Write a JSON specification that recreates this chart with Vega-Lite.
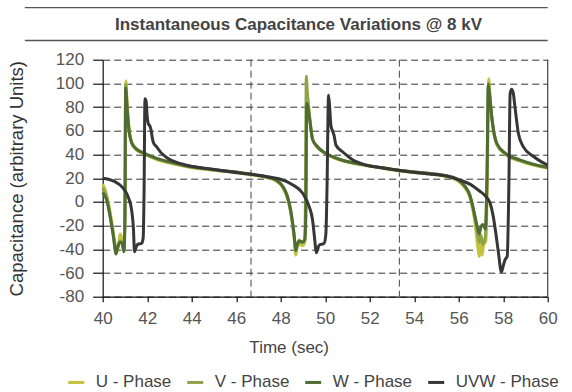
{
  "$schema": "https://vega.github.io/schema/vega-lite/v6.json",
  "width": 445,
  "height": 237,
  "autosize": {"type": "none"},
  "padding": {"left": 102.7, "top": 59.7, "right": 24.3, "bottom": 95.3},
  "config": {
    "view": {"stroke": null},
    "font": "Liberation Sans",
    "axisX": {
      "tickCount": 10, "grid": false, "domainColor": "#111", "domainWidth": 1.2, "tickColor": "#111", "tickSize": 5, "tickWidth": 1.2,
      "labelFontSize": 17, "labelColor": "#555", "labelPadding": 9, "labelDx": 3, "labelFlush": false, "labelOverlap": false,
      "titleFontSize": 17, "titleFontWeight": "normal", "titleColor": "#444",
      "titleX": 186, "titleY": 43, "titleAlign": "center", "titleBaseline": "top"
    },
    "axisY": {
      "tickCount": 10, "grid": true, "gridColor": "#333", "gridDash": [7, 4], "gridWidth": 1,
      "domainColor": "#111", "domainWidth": 1.2, "tickColor": "#111", "tickSize": 10, "tickWidth": 1.2,
      "labelFontSize": 17, "labelColor": "#555", "labelPadding": 9, "labelFlush": false, "labelOverlap": false,
      "titleFontSize": 18.5, "titleFontWeight": "normal", "titleColor": "#333",
      "titleX": -86, "titleBaseline": "middle"
    }
  },
  "datasets": {
    "series": [
      {"series": "U - Phase", "t": 40, "c": 15}, {"series": "U - Phase", "t": 40.15, "c": 8}, {"series": "U - Phase", "t": 40.3, "c": -5}, {"series": "U - Phase", "t": 40.45, "c": -22}, {"series": "U - Phase", "t": 40.58, "c": -38}, {"series": "U - Phase", "t": 40.65, "c": -42}, {"series": "U - Phase", "t": 40.72, "c": -36}, {"series": "U - Phase", "t": 40.78, "c": -27}, {"series": "U - Phase", "t": 40.85, "c": -30}, {"series": "U - Phase", "t": 40.92, "c": -40}, {"series": "U - Phase", "t": 40.98, "c": -35}, {"series": "U - Phase", "t": 41.01, "c": 30}, {"series": "U - Phase", "t": 41.04, "c": 102}, {"series": "U - Phase", "t": 41.1, "c": 82}, {"series": "U - Phase", "t": 41.18, "c": 64}, {"series": "U - Phase", "t": 41.3, "c": 50}, {"series": "U - Phase", "t": 41.5, "c": 44}, {"series": "U - Phase", "t": 41.85, "c": 40.5}, {"series": "U - Phase", "t": 42.4, "c": 36}, {"series": "U - Phase", "t": 43.2, "c": 32}, {"series": "U - Phase", "t": 43.9, "c": 29.3}, {"series": "U - Phase", "t": 44.7, "c": 27.3}, {"series": "U - Phase", "t": 45.4, "c": 25.8}, {"series": "U - Phase", "t": 46.2, "c": 24.2}, {"series": "U - Phase", "t": 46.9, "c": 22.3}, {"series": "U - Phase", "t": 47.4, "c": 20.5}, {"series": "U - Phase", "t": 47.8, "c": 17.5}, {"series": "U - Phase", "t": 48.1, "c": 12}, {"series": "U - Phase", "t": 48.3, "c": 3}, {"series": "U - Phase", "t": 48.45, "c": -9}, {"series": "U - Phase", "t": 48.6, "c": -30}, {"series": "U - Phase", "t": 48.68, "c": -45}, {"series": "U - Phase", "t": 48.75, "c": -37}, {"series": "U - Phase", "t": 48.82, "c": -32}, {"series": "U - Phase", "t": 48.88, "c": -36}, {"series": "U - Phase", "t": 48.98, "c": -37}, {"series": "U - Phase", "t": 49.08, "c": -34}, {"series": "U - Phase", "t": 49.13, "c": -5}, {"series": "U - Phase", "t": 49.17, "c": 94}, {"series": "U - Phase", "t": 49.22, "c": 88}, {"series": "U - Phase", "t": 49.3, "c": 72}, {"series": "U - Phase", "t": 49.43, "c": 53}, {"series": "U - Phase", "t": 49.65, "c": 46}, {"series": "U - Phase", "t": 50.03, "c": 40.5}, {"series": "U - Phase", "t": 50.63, "c": 35.5}, {"series": "U - Phase", "t": 51.4, "c": 32}, {"series": "U - Phase", "t": 52.4, "c": 29}, {"series": "U - Phase", "t": 53.2, "c": 26.5}, {"series": "U - Phase", "t": 53.9, "c": 25}, {"series": "U - Phase", "t": 54.7, "c": 23.5}, {"series": "U - Phase", "t": 55.4, "c": 21.5}, {"series": "U - Phase", "t": 55.9, "c": 18.5}, {"series": "U - Phase", "t": 56.27, "c": 12}, {"series": "U - Phase", "t": 56.5, "c": 4}, {"series": "U - Phase", "t": 56.65, "c": -8}, {"series": "U - Phase", "t": 56.78, "c": -25}, {"series": "U - Phase", "t": 56.87, "c": -40}, {"series": "U - Phase", "t": 56.93, "c": -46}, {"series": "U - Phase", "t": 56.99, "c": -33}, {"series": "U - Phase", "t": 57.05, "c": -45}, {"series": "U - Phase", "t": 57.12, "c": -36}, {"series": "U - Phase", "t": 57.22, "c": -33}, {"series": "U - Phase", "t": 57.29, "c": 20}, {"series": "U - Phase", "t": 57.35, "c": 104}, {"series": "U - Phase", "t": 57.41, "c": 88}, {"series": "U - Phase", "t": 57.49, "c": 71}, {"series": "U - Phase", "t": 57.71, "c": 48.5}, {"series": "U - Phase", "t": 58.1, "c": 40}, {"series": "U - Phase", "t": 58.75, "c": 34.5}, {"series": "U - Phase", "t": 59.5, "c": 30.5}, {"series": "U - Phase", "t": 60, "c": 28.5},

      {"series": "V - Phase", "t": 40, "c": 12}, {"series": "V - Phase", "t": 40.17, "c": 4}, {"series": "V - Phase", "t": 40.32, "c": -10}, {"series": "V - Phase", "t": 40.47, "c": -27}, {"series": "V - Phase", "t": 40.6, "c": -42}, {"series": "V - Phase", "t": 40.68, "c": -37}, {"series": "V - Phase", "t": 40.78, "c": -33}, {"series": "V - Phase", "t": 40.88, "c": -34}, {"series": "V - Phase", "t": 40.95, "c": -41}, {"series": "V - Phase", "t": 41.0, "c": -10}, {"series": "V - Phase", "t": 41.03, "c": 99}, {"series": "V - Phase", "t": 41.1, "c": 80}, {"series": "V - Phase", "t": 41.17, "c": 63}, {"series": "V - Phase", "t": 41.3, "c": 50}, {"series": "V - Phase", "t": 41.5, "c": 44.5}, {"series": "V - Phase", "t": 41.85, "c": 41}, {"series": "V - Phase", "t": 42.4, "c": 36.5}, {"series": "V - Phase", "t": 43.2, "c": 32.5}, {"series": "V - Phase", "t": 43.9, "c": 29.7}, {"series": "V - Phase", "t": 44.7, "c": 27.6}, {"series": "V - Phase", "t": 45.4, "c": 26}, {"series": "V - Phase", "t": 46.2, "c": 24.5}, {"series": "V - Phase", "t": 46.9, "c": 22.6}, {"series": "V - Phase", "t": 47.4, "c": 20.8}, {"series": "V - Phase", "t": 47.8, "c": 18}, {"series": "V - Phase", "t": 48.1, "c": 12.5}, {"series": "V - Phase", "t": 48.3, "c": 4}, {"series": "V - Phase", "t": 48.45, "c": -8}, {"series": "V - Phase", "t": 48.6, "c": -28}, {"series": "V - Phase", "t": 48.68, "c": -40}, {"series": "V - Phase", "t": 48.75, "c": -35}, {"series": "V - Phase", "t": 48.85, "c": -33}, {"series": "V - Phase", "t": 48.98, "c": -34}, {"series": "V - Phase", "t": 49.08, "c": -31}, {"series": "V - Phase", "t": 49.12, "c": 20}, {"series": "V - Phase", "t": 49.15, "c": 106}, {"series": "V - Phase", "t": 49.2, "c": 90}, {"series": "V - Phase", "t": 49.3, "c": 71}, {"series": "V - Phase", "t": 49.43, "c": 53}, {"series": "V - Phase", "t": 49.65, "c": 46.5}, {"series": "V - Phase", "t": 50.03, "c": 41}, {"series": "V - Phase", "t": 50.63, "c": 36}, {"series": "V - Phase", "t": 51.4, "c": 32.5}, {"series": "V - Phase", "t": 52.4, "c": 29.3}, {"series": "V - Phase", "t": 53.2, "c": 27}, {"series": "V - Phase", "t": 53.9, "c": 25.5}, {"series": "V - Phase", "t": 54.7, "c": 24}, {"series": "V - Phase", "t": 55.4, "c": 22}, {"series": "V - Phase", "t": 55.9, "c": 19.3}, {"series": "V - Phase", "t": 56.27, "c": 13}, {"series": "V - Phase", "t": 56.5, "c": 5}, {"series": "V - Phase", "t": 56.65, "c": -6}, {"series": "V - Phase", "t": 56.8, "c": -21}, {"series": "V - Phase", "t": 56.92, "c": -34}, {"series": "V - Phase", "t": 57.0, "c": -28}, {"series": "V - Phase", "t": 57.08, "c": -36}, {"series": "V - Phase", "t": 57.2, "c": -29}, {"series": "V - Phase", "t": 57.28, "c": 30}, {"series": "V - Phase", "t": 57.34, "c": 100}, {"series": "V - Phase", "t": 57.41, "c": 87}, {"series": "V - Phase", "t": 57.49, "c": 71}, {"series": "V - Phase", "t": 57.71, "c": 49}, {"series": "V - Phase", "t": 58.1, "c": 40.5}, {"series": "V - Phase", "t": 58.75, "c": 35}, {"series": "V - Phase", "t": 59.5, "c": 31}, {"series": "V - Phase", "t": 60, "c": 29.5},

      {"series": "W - Phase", "t": 40, "c": 8}, {"series": "W - Phase", "t": 40.18, "c": 1.5}, {"series": "W - Phase", "t": 40.33, "c": -12}, {"series": "W - Phase", "t": 40.48, "c": -29}, {"series": "W - Phase", "t": 40.6, "c": -44}, {"series": "W - Phase", "t": 40.68, "c": -38}, {"series": "W - Phase", "t": 40.78, "c": -34}, {"series": "W - Phase", "t": 40.88, "c": -35}, {"series": "W - Phase", "t": 40.95, "c": -42}, {"series": "W - Phase", "t": 41.0, "c": -15}, {"series": "W - Phase", "t": 41.03, "c": 96}, {"series": "W - Phase", "t": 41.1, "c": 78}, {"series": "W - Phase", "t": 41.17, "c": 62}, {"series": "W - Phase", "t": 41.3, "c": 50}, {"series": "W - Phase", "t": 41.5, "c": 45}, {"series": "W - Phase", "t": 41.83, "c": 41.5}, {"series": "W - Phase", "t": 42.4, "c": 37}, {"series": "W - Phase", "t": 43.2, "c": 33}, {"series": "W - Phase", "t": 43.9, "c": 30}, {"series": "W - Phase", "t": 44.7, "c": 28}, {"series": "W - Phase", "t": 45.4, "c": 26.3}, {"series": "W - Phase", "t": 46.2, "c": 24.7}, {"series": "W - Phase", "t": 46.9, "c": 22.8}, {"series": "W - Phase", "t": 47.4, "c": 21}, {"series": "W - Phase", "t": 47.8, "c": 18.5}, {"series": "W - Phase", "t": 48.1, "c": 13}, {"series": "W - Phase", "t": 48.3, "c": 5}, {"series": "W - Phase", "t": 48.45, "c": -7}, {"series": "W - Phase", "t": 48.6, "c": -27}, {"series": "W - Phase", "t": 48.68, "c": -41}, {"series": "W - Phase", "t": 48.75, "c": -36}, {"series": "W - Phase", "t": 48.85, "c": -33}, {"series": "W - Phase", "t": 48.98, "c": -34}, {"series": "W - Phase", "t": 49.08, "c": -32}, {"series": "W - Phase", "t": 49.13, "c": -10}, {"series": "W - Phase", "t": 49.17, "c": 83}, {"series": "W - Phase", "t": 49.22, "c": 80}, {"series": "W - Phase", "t": 49.3, "c": 70}, {"series": "W - Phase", "t": 49.43, "c": 53}, {"series": "W - Phase", "t": 49.65, "c": 46.5}, {"series": "W - Phase", "t": 50.03, "c": 41}, {"series": "W - Phase", "t": 50.63, "c": 36}, {"series": "W - Phase", "t": 51.4, "c": 32.5}, {"series": "W - Phase", "t": 52.4, "c": 29.3}, {"series": "W - Phase", "t": 53.2, "c": 27}, {"series": "W - Phase", "t": 53.9, "c": 25.5}, {"series": "W - Phase", "t": 54.7, "c": 24}, {"series": "W - Phase", "t": 55.4, "c": 22.3}, {"series": "W - Phase", "t": 55.9, "c": 19.5}, {"series": "W - Phase", "t": 56.27, "c": 13.5}, {"series": "W - Phase", "t": 56.5, "c": 6}, {"series": "W - Phase", "t": 56.65, "c": -5}, {"series": "W - Phase", "t": 56.8, "c": -18}, {"series": "W - Phase", "t": 56.92, "c": -27}, {"series": "W - Phase", "t": 57.0, "c": -21}, {"series": "W - Phase", "t": 57.08, "c": -19}, {"series": "W - Phase", "t": 57.2, "c": -23}, {"series": "W - Phase", "t": 57.27, "c": 20}, {"series": "W - Phase", "t": 57.33, "c": 99}, {"series": "W - Phase", "t": 57.4, "c": 88}, {"series": "W - Phase", "t": 57.49, "c": 71}, {"series": "W - Phase", "t": 57.71, "c": 49.5}, {"series": "W - Phase", "t": 58.1, "c": 41}, {"series": "W - Phase", "t": 58.75, "c": 35.5}, {"series": "W - Phase", "t": 59.5, "c": 31}, {"series": "W - Phase", "t": 60, "c": 29},

      {"series": "UVW - Phase", "t": 40, "c": 20}, {"series": "UVW - Phase", "t": 40.5, "c": 17.5}, {"series": "UVW - Phase", "t": 40.9, "c": 12}, {"series": "UVW - Phase", "t": 41.15, "c": 4}, {"series": "UVW - Phase", "t": 41.3, "c": -7}, {"series": "UVW - Phase", "t": 41.38, "c": -22}, {"series": "UVW - Phase", "t": 41.43, "c": -42}, {"series": "UVW - Phase", "t": 41.5, "c": -38}, {"series": "UVW - Phase", "t": 41.6, "c": -35.5}, {"series": "UVW - Phase", "t": 41.75, "c": -35}, {"series": "UVW - Phase", "t": 41.82, "c": -30}, {"series": "UVW - Phase", "t": 41.86, "c": 10}, {"series": "UVW - Phase", "t": 41.9, "c": 87}, {"series": "UVW - Phase", "t": 41.95, "c": 85}, {"series": "UVW - Phase", "t": 42.0, "c": 72}, {"series": "UVW - Phase", "t": 42.05, "c": 66}, {"series": "UVW - Phase", "t": 42.12, "c": 64}, {"series": "UVW - Phase", "t": 42.18, "c": 60}, {"series": "UVW - Phase", "t": 42.22, "c": 55}, {"series": "UVW - Phase", "t": 42.28, "c": 50}, {"series": "UVW - Phase", "t": 42.4, "c": 47}, {"series": "UVW - Phase", "t": 42.6, "c": 42}, {"series": "UVW - Phase", "t": 42.9, "c": 37}, {"series": "UVW - Phase", "t": 43.3, "c": 33.5}, {"series": "UVW - Phase", "t": 43.93, "c": 30.3}, {"series": "UVW - Phase", "t": 44.67, "c": 28.3}, {"series": "UVW - Phase", "t": 45.42, "c": 26.3}, {"series": "UVW - Phase", "t": 46.17, "c": 24.3}, {"series": "UVW - Phase", "t": 46.92, "c": 22.6}, {"series": "UVW - Phase", "t": 47.5, "c": 21}, {"series": "UVW - Phase", "t": 47.92, "c": 19.5}, {"series": "UVW - Phase", "t": 48.53, "c": 14.5}, {"series": "UVW - Phase", "t": 48.98, "c": 7.5}, {"series": "UVW - Phase", "t": 49.28, "c": -4}, {"series": "UVW - Phase", "t": 49.43, "c": -15}, {"series": "UVW - Phase", "t": 49.53, "c": -32}, {"series": "UVW - Phase", "t": 49.6, "c": -43}, {"series": "UVW - Phase", "t": 49.73, "c": -36.5}, {"series": "UVW - Phase", "t": 49.95, "c": -35}, {"series": "UVW - Phase", "t": 50.03, "c": -27}, {"series": "UVW - Phase", "t": 50.08, "c": 10}, {"series": "UVW - Phase", "t": 50.15, "c": 90}, {"series": "UVW - Phase", "t": 50.2, "c": 80}, {"series": "UVW - Phase", "t": 50.26, "c": 64}, {"series": "UVW - Phase", "t": 50.33, "c": 60}, {"series": "UVW - Phase", "t": 50.4, "c": 56}, {"series": "UVW - Phase", "t": 50.48, "c": 48}, {"series": "UVW - Phase", "t": 50.78, "c": 42.3}, {"series": "UVW - Phase", "t": 51.23, "c": 35.5}, {"series": "UVW - Phase", "t": 51.83, "c": 31}, {"series": "UVW - Phase", "t": 52.44, "c": 29}, {"series": "UVW - Phase", "t": 53.19, "c": 27}, {"series": "UVW - Phase", "t": 53.94, "c": 25}, {"series": "UVW - Phase", "t": 54.69, "c": 23.5}, {"series": "UVW - Phase", "t": 55.44, "c": 21.8}, {"series": "UVW - Phase", "t": 56.05, "c": 18.5}, {"series": "UVW - Phase", "t": 56.5, "c": 15}, {"series": "UVW - Phase", "t": 56.95, "c": 9}, {"series": "UVW - Phase", "t": 57.2, "c": 5}, {"series": "UVW - Phase", "t": 57.41, "c": -1}, {"series": "UVW - Phase", "t": 57.55, "c": -12}, {"series": "UVW - Phase", "t": 57.65, "c": -24}, {"series": "UVW - Phase", "t": 57.78, "c": -42}, {"series": "UVW - Phase", "t": 57.92, "c": -59}, {"series": "UVW - Phase", "t": 58.0, "c": -54}, {"series": "UVW - Phase", "t": 58.08, "c": -49}, {"series": "UVW - Phase", "t": 58.18, "c": -46}, {"series": "UVW - Phase", "t": 58.26, "c": 20}, {"series": "UVW - Phase", "t": 58.31, "c": 91}, {"series": "UVW - Phase", "t": 58.38, "c": 95}, {"series": "UVW - Phase", "t": 58.45, "c": 92}, {"series": "UVW - Phase", "t": 58.53, "c": 80}, {"series": "UVW - Phase", "t": 58.68, "c": 58}, {"series": "UVW - Phase", "t": 58.9, "c": 46.6}, {"series": "UVW - Phase", "t": 59.35, "c": 38.5}, {"series": "UVW - Phase", "t": 59.7, "c": 34}, {"series": "UVW - Phase", "t": 60, "c": 31}
    ],
    "cycles": [{"t": 46.667}, {"t": 53.333}]
  },
  "layer": [
    {
      "data": {"name": "cycles"},
      "mark": {"type": "rule", "color": "#444", "strokeWidth": 1, "strokeDash": [7, 4]},
      "encoding": {
        "x": {"field": "t", "type": "quantitative", "scale": {"domain": [40, 60], "nice": false, "zero": false}, "title": "Time (sec)"}
      }
    },
    {
      "data": {"name": "series"},
      "mark": {"type": "line", "strokeWidth": 3, "interpolate": "monotone"},
      "encoding": {
        "x": {
          "field": "t", "type": "quantitative",
          "scale": {"domain": [40, 60], "nice": false, "zero": false},
          "title": "Time (sec)"
        },
        "y": {
          "field": "c", "type": "quantitative",
          "scale": {"domain": [-80, 120], "nice": false, "zero": false},
          "title": "Capacitance (arbitrary Units)",
          "axis": {"labelExpr": "'' + datum.value"}
        },
        "color": {
          "field": "series", "type": "nominal",
          "scale": {"domain": ["U - Phase", "V - Phase", "W - Phase", "UVW - Phase"], "range": ["#c4c33f", "#8ea446", "#4f6c34", "#363636"]},
          "legend": {
            "orient": "none", "legendX": -36, "legendY": 313, "direction": "horizontal", "title": null,
            "symbolType": "stroke", "symbolStrokeWidth": 3, "symbolSize": 256,
            "labelFontSize": 17, "labelColor": "#444", "labelOffset": 10, "columnPadding": 9
          }
        }
      }
    },
    {
      "data": {"values": [{}]},
      "mark": {"type": "rule", "color": "#444", "strokeWidth": 1.2},
      "encoding": {"x": {"datum": 60}}
    },
    {
      "data": {"values": [{}]},
      "mark": {"type": "rule", "color": "#555", "strokeWidth": 1.3},
      "encoding": {"x": {"datum": 36.5}, "x2": {"datum": 60}, "y": {"datum": 164}}
    },
    {
      "data": {"values": [{}]},
      "mark": {"type": "rule", "color": "#555", "strokeWidth": 1.3},
      "encoding": {"x": {"datum": 36.5}, "x2": {"datum": 60}, "y": {"datum": 136.2}}
    },
    {
      "data": {"values": [{}]},
      "mark": {"type": "text", "fontSize": 17, "fontWeight": "bold", "color": "#444", "align": "center", "baseline": "middle"},
      "encoding": {"x": {"datum": 48.8}, "y": {"datum": 149.3}, "text": {"value": "Instantaneous Capacitance Variations @ 8 kV"}}
    }
  ]
}
